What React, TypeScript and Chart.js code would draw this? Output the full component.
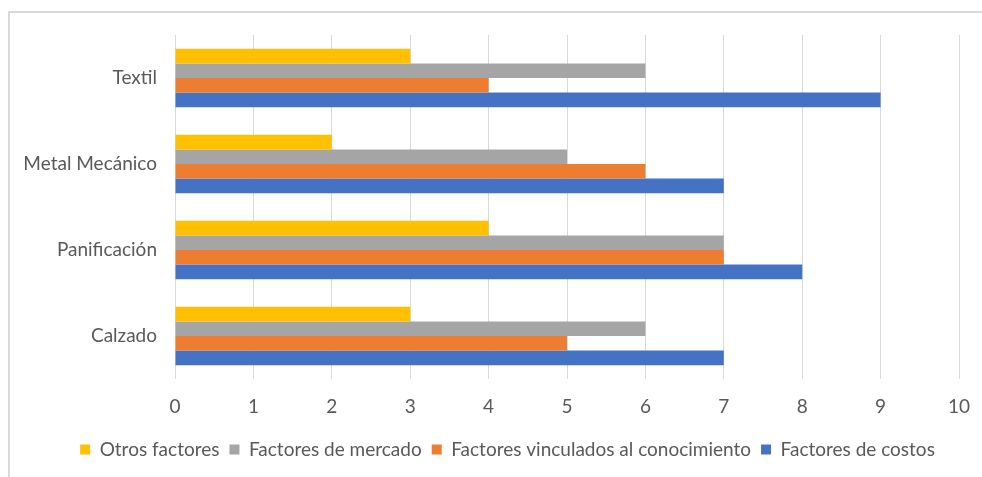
import React, { useEffect, useRef } from "react";
import { Chart, registerables } from "chart.js";

Chart.register(...registerables);

const categories = ["Textil", "Metal Mecánico", "Panificación", "Calzado"];
const otrosFactores = [3, 2, 4, 3];
const factoresMercado = [6, 5, 7, 6];
const factoresConocimiento = [4, 6, 7, 5];
const factoresCostos = [9, 7, 8, 7];
const xTicks = [0, 1, 2, 3, 4, 5, 6, 7, 8, 9, 10];

const FONT = "Lato, 'Liberation Sans', sans-serif";
const TEXT = "#595959";

// The chart frame runs past the right edge of the window, so the legend is
// centred on that wider frame rather than on the canvas.
const legendShift = {
  id: "legendShift",
  afterLayout(chart: any) {
    if (chart.legend) {
      chart.legend.left += 24;
      chart.legend.right += 24;
    }
  },
};

export default function App() {
  const ref = useRef<HTMLCanvasElement | null>(null);

  useEffect(() => {
    if (!ref.current) return;
    const chart = new Chart(ref.current, {
      type: "bar",
      data: {
        labels: categories,
        datasets: [
          { label: "Otros factores", data: otrosFactores, backgroundColor: "#FFC000" },
          { label: "Factores de mercado", data: factoresMercado, backgroundColor: "#A5A5A5" },
          { label: "Factores vinculados al conocimiento", data: factoresConocimiento, backgroundColor: "#ED7D31" },
          { label: "Factores de costos", data: factoresCostos, backgroundColor: "#4472C4" },
        ],
      },
      options: {
        indexAxis: "y",
        responsive: false,
        animation: false,
        datasets: { bar: { categoryPercentage: 0.68, barPercentage: 1 } },
        layout: { padding: { top: 24, right: 23, bottom: 8, left: 0 } },
        scales: {
          x: {
            min: 0,
            max: 10,
            afterBuildTicks: (s: any) => {
              s.ticks = xTicks.map((v) => ({ value: v }));
            },
            afterFit: (s: any) => {
              s.height = 51;
              s.paddingLeft = 0;
              s.paddingRight = 0;
            },
            grid: { color: "#d9d9d9", drawTicks: false, lineWidth: 1 },
            border: { display: false },
            ticks: { color: TEXT, font: { family: FONT, size: 19 }, padding: 16 },
          },
          y: {
            afterFit: (s: any) => {
              s.width = 167;
              s.paddingTop = 0;
              s.paddingBottom = 0;
            },
            grid: { display: false, drawTicks: false },
            border: { display: false },
            ticks: { color: TEXT, font: { family: FONT, size: 19 }, padding: 18 },
          },
        },
        plugins: {
          tooltip: { enabled: false },
          legend: {
            position: "bottom",
            labels: {
              color: TEXT,
              font: { family: FONT, size: 19 },
              boxWidth: 10,
              boxHeight: 10,
              padding: 10,
            },
          },
        },
      },
      plugins: [legendShift],
    });
    return () => chart.destroy();
  }, []);

  return (
    <div>
      <div
        style={{
          position: "fixed",
          left: 8,
          top: 11,
          width: 1200,
          height: 800,
          borderTop: "2px solid #d9d9d9",
          borderLeft: "2px solid #d9d9d9",
          boxSizing: "border-box",
        }}
      />
      <canvas
        ref={ref}
        width={974}
        height={466}
        style={{ position: "fixed", left: 8, top: 11, width: 974, height: 466 }}
      />
    </div>
  );
}
